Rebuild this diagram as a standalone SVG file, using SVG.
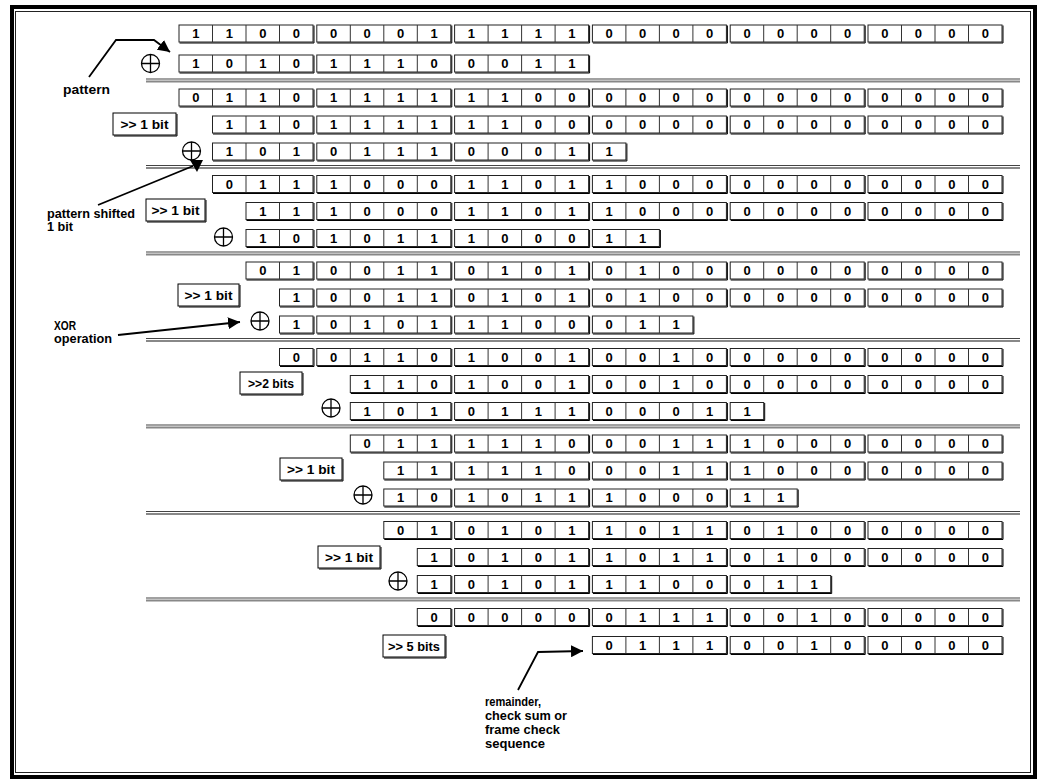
<svg xmlns="http://www.w3.org/2000/svg" xmlns:xlink="http://www.w3.org/1999/xlink" width="1039" height="781" viewBox="0 0 1039 781">
<style>
.bx rect{fill:#fff;stroke:#222;stroke-width:1}
.bx path.dv{fill:none;stroke:#333;stroke-width:1}
.bx path.sh{fill:none;stroke:#000;stroke-width:1}
.bits{font-family:"Liberation Sans",Arial,sans-serif;font-weight:bold;font-size:13px;fill:#000;text-anchor:middle}
.lbl rect{fill:#fff;stroke:#000;stroke-width:1}
.lbl path{fill:none;stroke:#000;stroke-width:1}
.lbl text{font-family:"Liberation Sans",Arial,sans-serif;font-weight:bold;font-size:12px;fill:#000;text-anchor:middle}
.ann{font-family:"Liberation Sans",Arial,sans-serif;font-weight:bold;font-size:12px;fill:#000}
.sep1{stroke:#444;stroke-width:1.2}
.sep2{stroke:#888;stroke-width:2}
.con{fill:none;stroke:#000;stroke-width:1.8}
.xo circle{fill:#fff;stroke:#000;stroke-width:1.3}
.xo path{stroke:#000;stroke-width:1.3}
</style>
<defs>
<marker id="ah" markerUnits="userSpaceOnUse" markerWidth="13" markerHeight="12" refX="12" refY="6" orient="auto"><path d="M0,0 L12,6 L0,12 z" fill="#000"/></marker>
<g id="c4" class="bx"><rect x="0" y="0" width="134" height="17"/><path class="dv" d="M33.5 0v17M67 0v17M100.5 0v17"/><path class="sh" d="M0.5 18H135V0.5"/></g>
<g id="c3" class="bx"><rect x="0" y="0" width="100.5" height="17"/><path class="dv" d="M33.5 0v17M67 0v17"/><path class="sh" d="M0.5 18H101.5V0.5"/></g>
<g id="c2" class="bx"><rect x="0" y="0" width="67" height="17"/><path class="dv" d="M33.5 0v17"/><path class="sh" d="M0.5 18H68V0.5"/></g>
<g id="c1" class="bx"><rect x="0" y="0" width="33.5" height="17"/><path class="sh" d="M0.5 18H34.5V0.5"/></g>
<g id="xor" class="xo"><circle cx="0" cy="0" r="9"/><path d="M-9 0H9M0 -9V9"/></g>
</defs>
<rect x="0" y="0" width="1039" height="781" fill="#fff"/>
<g id="frame">
<rect x="12" y="7" width="1023" height="770" fill="none" stroke="#000" stroke-width="4"/>
<rect x="15.5" y="11.5" width="1015" height="761" fill="none" stroke="#222" stroke-width="1"/>
</g>
<g id="separators">
<line class="sep1" x1="146" y1="79" x2="1020" y2="79"/><line class="sep2" x1="146" y1="81.5" x2="1020" y2="81.5"/>
<line class="sep1" x1="146" y1="165.5" x2="1020" y2="165.5"/><line class="sep2" x1="146" y1="168" x2="1020" y2="168"/>
<line class="sep1" x1="146" y1="252" x2="1020" y2="252"/><line class="sep2" x1="146" y1="254.5" x2="1020" y2="254.5"/>
<line class="sep1" x1="146" y1="338.5" x2="1020" y2="338.5"/><line class="sep2" x1="146" y1="341" x2="1020" y2="341"/>
<line class="sep1" x1="146" y1="425" x2="1020" y2="425"/><line class="sep2" x1="146" y1="427.5" x2="1020" y2="427.5"/>
<line class="sep1" x1="146" y1="511.5" x2="1020" y2="511.5"/><line class="sep2" x1="146" y1="514" x2="1020" y2="514"/>
<line class="sep1" x1="146" y1="598" x2="1020" y2="598"/><line class="sep2" x1="146" y1="600.5" x2="1020" y2="600.5"/>
</g>

<g id="s1-r1"><use xlink:href="#c4" x="179" y="25"/><use xlink:href="#c4" x="316.8" y="25"/><use xlink:href="#c4" x="454.6" y="25"/><use xlink:href="#c4" x="592.4" y="25"/><use xlink:href="#c4" x="730.2" y="25"/><use xlink:href="#c4" x="868" y="25"/>
<text class="bits" y="38" x="195.8 229.3 262.8 296.3 333.6 367.1 400.6 434.1 471.4 504.9 538.4 571.9 609.2 642.7 676.2 709.7 747 780.5 814 847.5 884.8 918.3 951.8 985.3">110000011111000000000000</text></g>
<g id="s1-r2"><use xlink:href="#xor" x="150.5" y="63.5"/><use xlink:href="#c4" x="179" y="55"/><use xlink:href="#c4" x="316.8" y="55"/><use xlink:href="#c4" x="454.6" y="55"/>
<text class="bits" y="68" x="195.8 229.3 262.8 296.3 333.6 367.1 400.6 434.1 471.4 504.9 538.4 571.9">101011100011</text></g>

<g id="s2-r1"><use xlink:href="#c4" x="179" y="89"/><use xlink:href="#c4" x="316.8" y="89"/><use xlink:href="#c4" x="454.6" y="89"/><use xlink:href="#c4" x="592.4" y="89"/><use xlink:href="#c4" x="730.2" y="89"/><use xlink:href="#c4" x="868" y="89"/>
<text class="bits" y="102" x="195.8 229.3 262.8 296.3 333.6 367.1 400.6 434.1 471.4 504.9 538.4 571.9 609.2 642.7 676.2 709.7 747 780.5 814 847.5 884.8 918.3 951.8 985.3">011011111100000000000000</text></g>
<g id="s2-label" class="lbl"><rect x="113" y="113" width="63" height="22"/><path d="M114 136H177V114"/><text x="144.5" y="128.5" textLength="48" lengthAdjust="spacingAndGlyphs">&gt;&gt; 1 bit</text></g>
<g id="s2-r2"><use xlink:href="#c3" x="212.5" y="116"/><use xlink:href="#c4" x="316.8" y="116"/><use xlink:href="#c4" x="454.6" y="116"/><use xlink:href="#c4" x="592.4" y="116"/><use xlink:href="#c4" x="730.2" y="116"/><use xlink:href="#c4" x="868" y="116"/>
<text class="bits" y="129" x="229.3 262.8 296.3 333.6 367.1 400.6 434.1 471.4 504.9 538.4 571.9 609.2 642.7 676.2 709.7 747 780.5 814 847.5 884.8 918.3 951.8 985.3">11011111100000000000000</text></g>
<g id="s2-r3"><use xlink:href="#xor" x="191.5" y="151"/><use xlink:href="#c3" x="212.5" y="143"/><use xlink:href="#c4" x="316.8" y="143"/><use xlink:href="#c4" x="454.6" y="143"/><use xlink:href="#c1" x="592.4" y="143"/>
<text class="bits" y="156" x="229.3 262.8 296.3 333.6 367.1 400.6 434.1 471.4 504.9 538.4 571.9 609.2">101011100011</text></g>

<g id="s3-r1"><use xlink:href="#c3" x="212.5" y="175.5"/><use xlink:href="#c4" x="316.8" y="175.5"/><use xlink:href="#c4" x="454.6" y="175.5"/><use xlink:href="#c4" x="592.4" y="175.5"/><use xlink:href="#c4" x="730.2" y="175.5"/><use xlink:href="#c4" x="868" y="175.5"/>
<text class="bits" y="188.5" x="229.3 262.8 296.3 333.6 367.1 400.6 434.1 471.4 504.9 538.4 571.9 609.2 642.7 676.2 709.7 747 780.5 814 847.5 884.8 918.3 951.8 985.3">01110001101100000000000</text></g>
<g id="s3-label" class="lbl"><rect x="146" y="199" width="59" height="22"/><path d="M147 222H206V200"/><text x="175.5" y="214.5" textLength="48" lengthAdjust="spacingAndGlyphs">&gt;&gt; 1 bit</text></g>
<g id="s3-r2"><use xlink:href="#c2" x="246" y="202.5"/><use xlink:href="#c4" x="316.8" y="202.5"/><use xlink:href="#c4" x="454.6" y="202.5"/><use xlink:href="#c4" x="592.4" y="202.5"/><use xlink:href="#c4" x="730.2" y="202.5"/><use xlink:href="#c4" x="868" y="202.5"/>
<text class="bits" y="215.5" x="262.8 296.3 333.6 367.1 400.6 434.1 471.4 504.9 538.4 571.9 609.2 642.7 676.2 709.7 747 780.5 814 847.5 884.8 918.3 951.8 985.3">1110001101100000000000</text></g>
<g id="s3-r3"><use xlink:href="#xor" x="223.5" y="237"/><use xlink:href="#c2" x="246" y="229.5"/><use xlink:href="#c4" x="316.8" y="229.5"/><use xlink:href="#c4" x="454.6" y="229.5"/><use xlink:href="#c2" x="592.4" y="229.5"/>
<text class="bits" y="242.5" x="262.8 296.3 333.6 367.1 400.6 434.1 471.4 504.9 538.4 571.9 609.2 642.7">101011100011</text></g>

<g id="s4-r1"><use xlink:href="#c2" x="246" y="262"/><use xlink:href="#c4" x="316.8" y="262"/><use xlink:href="#c4" x="454.6" y="262"/><use xlink:href="#c4" x="592.4" y="262"/><use xlink:href="#c4" x="730.2" y="262"/><use xlink:href="#c4" x="868" y="262"/>
<text class="bits" y="275" x="262.8 296.3 333.6 367.1 400.6 434.1 471.4 504.9 538.4 571.9 609.2 642.7 676.2 709.7 747 780.5 814 847.5 884.8 918.3 951.8 985.3">0100110101010000000000</text></g>
<g id="s4-label" class="lbl"><rect x="178" y="284" width="61" height="22"/><path d="M179 307H240V285"/><text x="208.5" y="299.5" textLength="48" lengthAdjust="spacingAndGlyphs">&gt;&gt; 1 bit</text></g>
<g id="s4-r2"><use xlink:href="#c1" x="279.5" y="289"/><use xlink:href="#c4" x="316.8" y="289"/><use xlink:href="#c4" x="454.6" y="289"/><use xlink:href="#c4" x="592.4" y="289"/><use xlink:href="#c4" x="730.2" y="289"/><use xlink:href="#c4" x="868" y="289"/>
<text class="bits" y="302" x="296.3 333.6 367.1 400.6 434.1 471.4 504.9 538.4 571.9 609.2 642.7 676.2 709.7 747 780.5 814 847.5 884.8 918.3 951.8 985.3">100110101010000000000</text></g>
<g id="s4-r3"><use xlink:href="#xor" x="260" y="321"/><use xlink:href="#c1" x="279.5" y="316"/><use xlink:href="#c4" x="316.8" y="316"/><use xlink:href="#c4" x="454.6" y="316"/><use xlink:href="#c3" x="592.4" y="316"/>
<text class="bits" y="329" x="296.3 333.6 367.1 400.6 434.1 471.4 504.9 538.4 571.9 609.2 642.7 676.2">101011100011</text></g>

<g id="s5-r1"><use xlink:href="#c1" x="279.5" y="348.5"/><use xlink:href="#c4" x="316.8" y="348.5"/><use xlink:href="#c4" x="454.6" y="348.5"/><use xlink:href="#c4" x="592.4" y="348.5"/><use xlink:href="#c4" x="730.2" y="348.5"/><use xlink:href="#c4" x="868" y="348.5"/>
<text class="bits" y="361.5" x="296.3 333.6 367.1 400.6 434.1 471.4 504.9 538.4 571.9 609.2 642.7 676.2 709.7 747 780.5 814 847.5 884.8 918.3 951.8 985.3">001101001001000000000</text></g>
<g id="s5-label" class="lbl"><rect x="240" y="372" width="62" height="22"/><path d="M241 395H303V373"/><text x="271" y="387.5" textLength="46" lengthAdjust="spacingAndGlyphs">&gt;&gt;2 bits</text></g>
<g id="s5-r2"><use xlink:href="#c3" x="350.3" y="375.5"/><use xlink:href="#c4" x="454.6" y="375.5"/><use xlink:href="#c4" x="592.4" y="375.5"/><use xlink:href="#c4" x="730.2" y="375.5"/><use xlink:href="#c4" x="868" y="375.5"/>
<text class="bits" y="388.5" x="367.1 400.6 434.1 471.4 504.9 538.4 571.9 609.2 642.7 676.2 709.7 747 780.5 814 847.5 884.8 918.3 951.8 985.3">1101001001000000000</text></g>
<g id="s5-r3"><use xlink:href="#xor" x="331" y="408"/><use xlink:href="#c3" x="350.3" y="402.5"/><use xlink:href="#c4" x="454.6" y="402.5"/><use xlink:href="#c4" x="592.4" y="402.5"/><use xlink:href="#c1" x="730.2" y="402.5"/>
<text class="bits" y="415.5" x="367.1 400.6 434.1 471.4 504.9 538.4 571.9 609.2 642.7 676.2 709.7 747">101011100011</text></g>

<g id="s6-r1"><use xlink:href="#c3" x="350.3" y="435"/><use xlink:href="#c4" x="454.6" y="435"/><use xlink:href="#c4" x="592.4" y="435"/><use xlink:href="#c4" x="730.2" y="435"/><use xlink:href="#c4" x="868" y="435"/>
<text class="bits" y="448" x="367.1 400.6 434.1 471.4 504.9 538.4 571.9 609.2 642.7 676.2 709.7 747 780.5 814 847.5 884.8 918.3 951.8 985.3">0111110001110000000</text></g>
<g id="s6-label" class="lbl"><rect x="280" y="458" width="62" height="22"/><path d="M281 481H343V459"/><text x="311" y="473.5" textLength="48" lengthAdjust="spacingAndGlyphs">&gt;&gt; 1 bit</text></g>
<g id="s6-r2"><use xlink:href="#c2" x="383.8" y="462"/><use xlink:href="#c4" x="454.6" y="462"/><use xlink:href="#c4" x="592.4" y="462"/><use xlink:href="#c4" x="730.2" y="462"/><use xlink:href="#c4" x="868" y="462"/>
<text class="bits" y="475" x="400.6 434.1 471.4 504.9 538.4 571.9 609.2 642.7 676.2 709.7 747 780.5 814 847.5 884.8 918.3 951.8 985.3">111110001110000000</text></g>
<g id="s6-r3"><use xlink:href="#xor" x="363" y="495"/><use xlink:href="#c2" x="383.8" y="489"/><use xlink:href="#c4" x="454.6" y="489"/><use xlink:href="#c4" x="592.4" y="489"/><use xlink:href="#c2" x="730.2" y="489"/>
<text class="bits" y="502" x="400.6 434.1 471.4 504.9 538.4 571.9 609.2 642.7 676.2 709.7 747 780.5">101011100011</text></g>

<g id="s7-r1"><use xlink:href="#c2" x="383.8" y="521.5"/><use xlink:href="#c4" x="454.6" y="521.5"/><use xlink:href="#c4" x="592.4" y="521.5"/><use xlink:href="#c4" x="730.2" y="521.5"/><use xlink:href="#c4" x="868" y="521.5"/>
<text class="bits" y="534.5" x="400.6 434.1 471.4 504.9 538.4 571.9 609.2 642.7 676.2 709.7 747 780.5 814 847.5 884.8 918.3 951.8 985.3">010101101101000000</text></g>
<g id="s7-label" class="lbl"><rect x="318" y="546" width="62" height="22"/><path d="M319 569H381V547"/><text x="349" y="561.5" textLength="48" lengthAdjust="spacingAndGlyphs">&gt;&gt; 1 bit</text></g>
<g id="s7-r2"><use xlink:href="#c1" x="417.3" y="548.5"/><use xlink:href="#c4" x="454.6" y="548.5"/><use xlink:href="#c4" x="592.4" y="548.5"/><use xlink:href="#c4" x="730.2" y="548.5"/><use xlink:href="#c4" x="868" y="548.5"/>
<text class="bits" y="561.5" x="434.1 471.4 504.9 538.4 571.9 609.2 642.7 676.2 709.7 747 780.5 814 847.5 884.8 918.3 951.8 985.3">10101101101000000</text></g>
<g id="s7-r3"><use xlink:href="#xor" x="398" y="581"/><use xlink:href="#c1" x="417.3" y="575.5"/><use xlink:href="#c4" x="454.6" y="575.5"/><use xlink:href="#c4" x="592.4" y="575.5"/><use xlink:href="#c3" x="730.2" y="575.5"/>
<text class="bits" y="588.5" x="434.1 471.4 504.9 538.4 571.9 609.2 642.7 676.2 709.7 747 780.5 814">101011100011</text></g>

<g id="s8-r1"><use xlink:href="#c1" x="417.3" y="608.5"/><use xlink:href="#c4" x="454.6" y="608.5"/><use xlink:href="#c4" x="592.4" y="608.5"/><use xlink:href="#c4" x="730.2" y="608.5"/><use xlink:href="#c4" x="868" y="608.5"/>
<text class="bits" y="621.5" x="434.1 471.4 504.9 538.4 571.9 609.2 642.7 676.2 709.7 747 780.5 814 847.5 884.8 918.3 951.8 985.3">00000011100100000</text></g>
<g id="s8-label" class="lbl"><rect x="383" y="635" width="62" height="22"/><path d="M384 658H446V636"/><text x="414" y="650.5" textLength="52" lengthAdjust="spacingAndGlyphs">&gt;&gt; 5 bits</text></g>
<g id="s8-r2"><use xlink:href="#c4" x="592.4" y="636.5"/><use xlink:href="#c4" x="730.2" y="636.5"/><use xlink:href="#c4" x="868" y="636.5"/>
<text class="bits" y="649.5" x="609.2 642.7 676.2 709.7 747 780.5 814 847.5 884.8 918.3 951.8 985.3">011100100000</text></g>

<g id="ann-pattern"><text class="ann" x="63" y="94" textLength="47" lengthAdjust="spacingAndGlyphs">pattern</text></g>
<g id="ann-shifted"><text class="ann" x="47" y="218" textLength="88" lengthAdjust="spacingAndGlyphs">pattern shifted</text><text class="ann" x="47" y="231" textLength="26" lengthAdjust="spacingAndGlyphs">1 bit</text></g>
<g id="ann-xor"><text class="ann" x="54" y="330" textLength="22" lengthAdjust="spacingAndGlyphs">XOR</text><text class="ann" x="54" y="343" textLength="58" lengthAdjust="spacingAndGlyphs">operation</text></g>
<g id="ann-remainder"><text class="ann" x="485" y="706" textLength="56" lengthAdjust="spacingAndGlyphs">remainder,</text><text class="ann" x="485" y="720" textLength="82" lengthAdjust="spacingAndGlyphs">check sum or</text><text class="ann" x="485" y="734" textLength="75" lengthAdjust="spacingAndGlyphs">frame check</text><text class="ann" x="485" y="748" textLength="60" lengthAdjust="spacingAndGlyphs">sequence</text></g>

<g id="connectors">
<polyline class="con" points="89,77 116,40 154,40 170,52" marker-end="url(#ah)"/>
<line class="con" x1="98" y1="205" x2="193" y2="166"/>
<polygon points="190,160 203,160 197,172" fill="#000"/>
<line class="con" x1="118" y1="335" x2="240" y2="322" marker-end="url(#ah)"/>
<polyline class="con" points="518,690 538,652 583,651" marker-end="url(#ah)"/>
</g>
</svg>
